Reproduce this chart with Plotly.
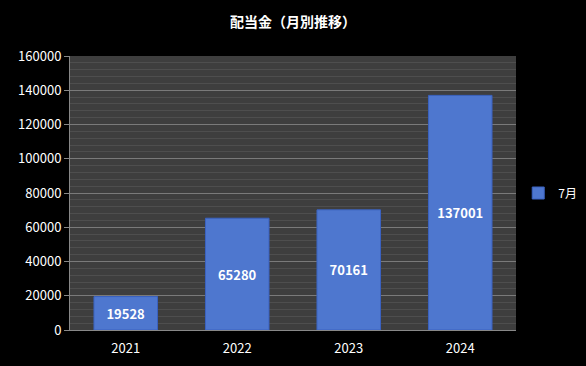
import plotly.graph_objects as go

years = ["2021", "2022", "2023", "2024"]
values = [19528, 65280, 70161, 137001]
series_name = "7月"
title = "配当金（月別推移）"
y_ticks = [0, 20000, 40000, 60000, 80000, 100000, 120000, 140000, 160000]

font = "Noto Sans CJK JP"

fig = go.Figure()
fig.add_trace(go.Bar(
    x=years, y=values, name=series_name,
    marker=dict(color="#4e77cf", line=dict(color="#3a62c0", width=1)),
    text=[str(v) for v in values], texttemplate="<b>%{text}</b>",
    textposition="inside", insidetextanchor="middle",
    textfont=dict(color="white", size=13, family=font),
))
fig.update_layout(
    width=586, height=366,
    paper_bgcolor="black", plot_bgcolor="#3e3e3e",
    margin=dict(l=70, r=70, t=56, b=36, autoexpand=False),
    title=dict(text="<b>" + title + "</b>", x=0.5, xanchor="center", y=0.94, yanchor="middle",
               font=dict(color="white", size=14, family=font)),
    font=dict(family=font, color="white"),
    bargap=0.43,
    showlegend=True,
    legend=dict(x=1.005, y=0.5, xanchor="left", yanchor="middle", font=dict(color="white", size=12, family=font),
                bgcolor="rgba(0,0,0,0)", itemwidth=30),
    yaxis=dict(range=[0, 160000], tickvals=y_ticks, ticktext=[str(t) for t in y_ticks],
               tickfont=dict(color="white", size=13), gridcolor="#7a7a7a", gridwidth=1,
               ticks="outside", tickcolor="#888888", ticklen=5, showline=True, linecolor="#888888",
               zeroline=False,
               minor=dict(dtick=4000, showgrid=True, gridcolor="#4e4e4e", gridwidth=1)),
    xaxis=dict(tickfont=dict(color="white", size=13), showline=True, linecolor="#888888",
               ticks="", showgrid=False, ticklabelstandoff=6),
)
fig.write_html("out.html", config={"displayModeBar": False},
               post_script="document.body.style.margin='0';document.body.style.background='black';document.body.style.overflow='hidden';")
